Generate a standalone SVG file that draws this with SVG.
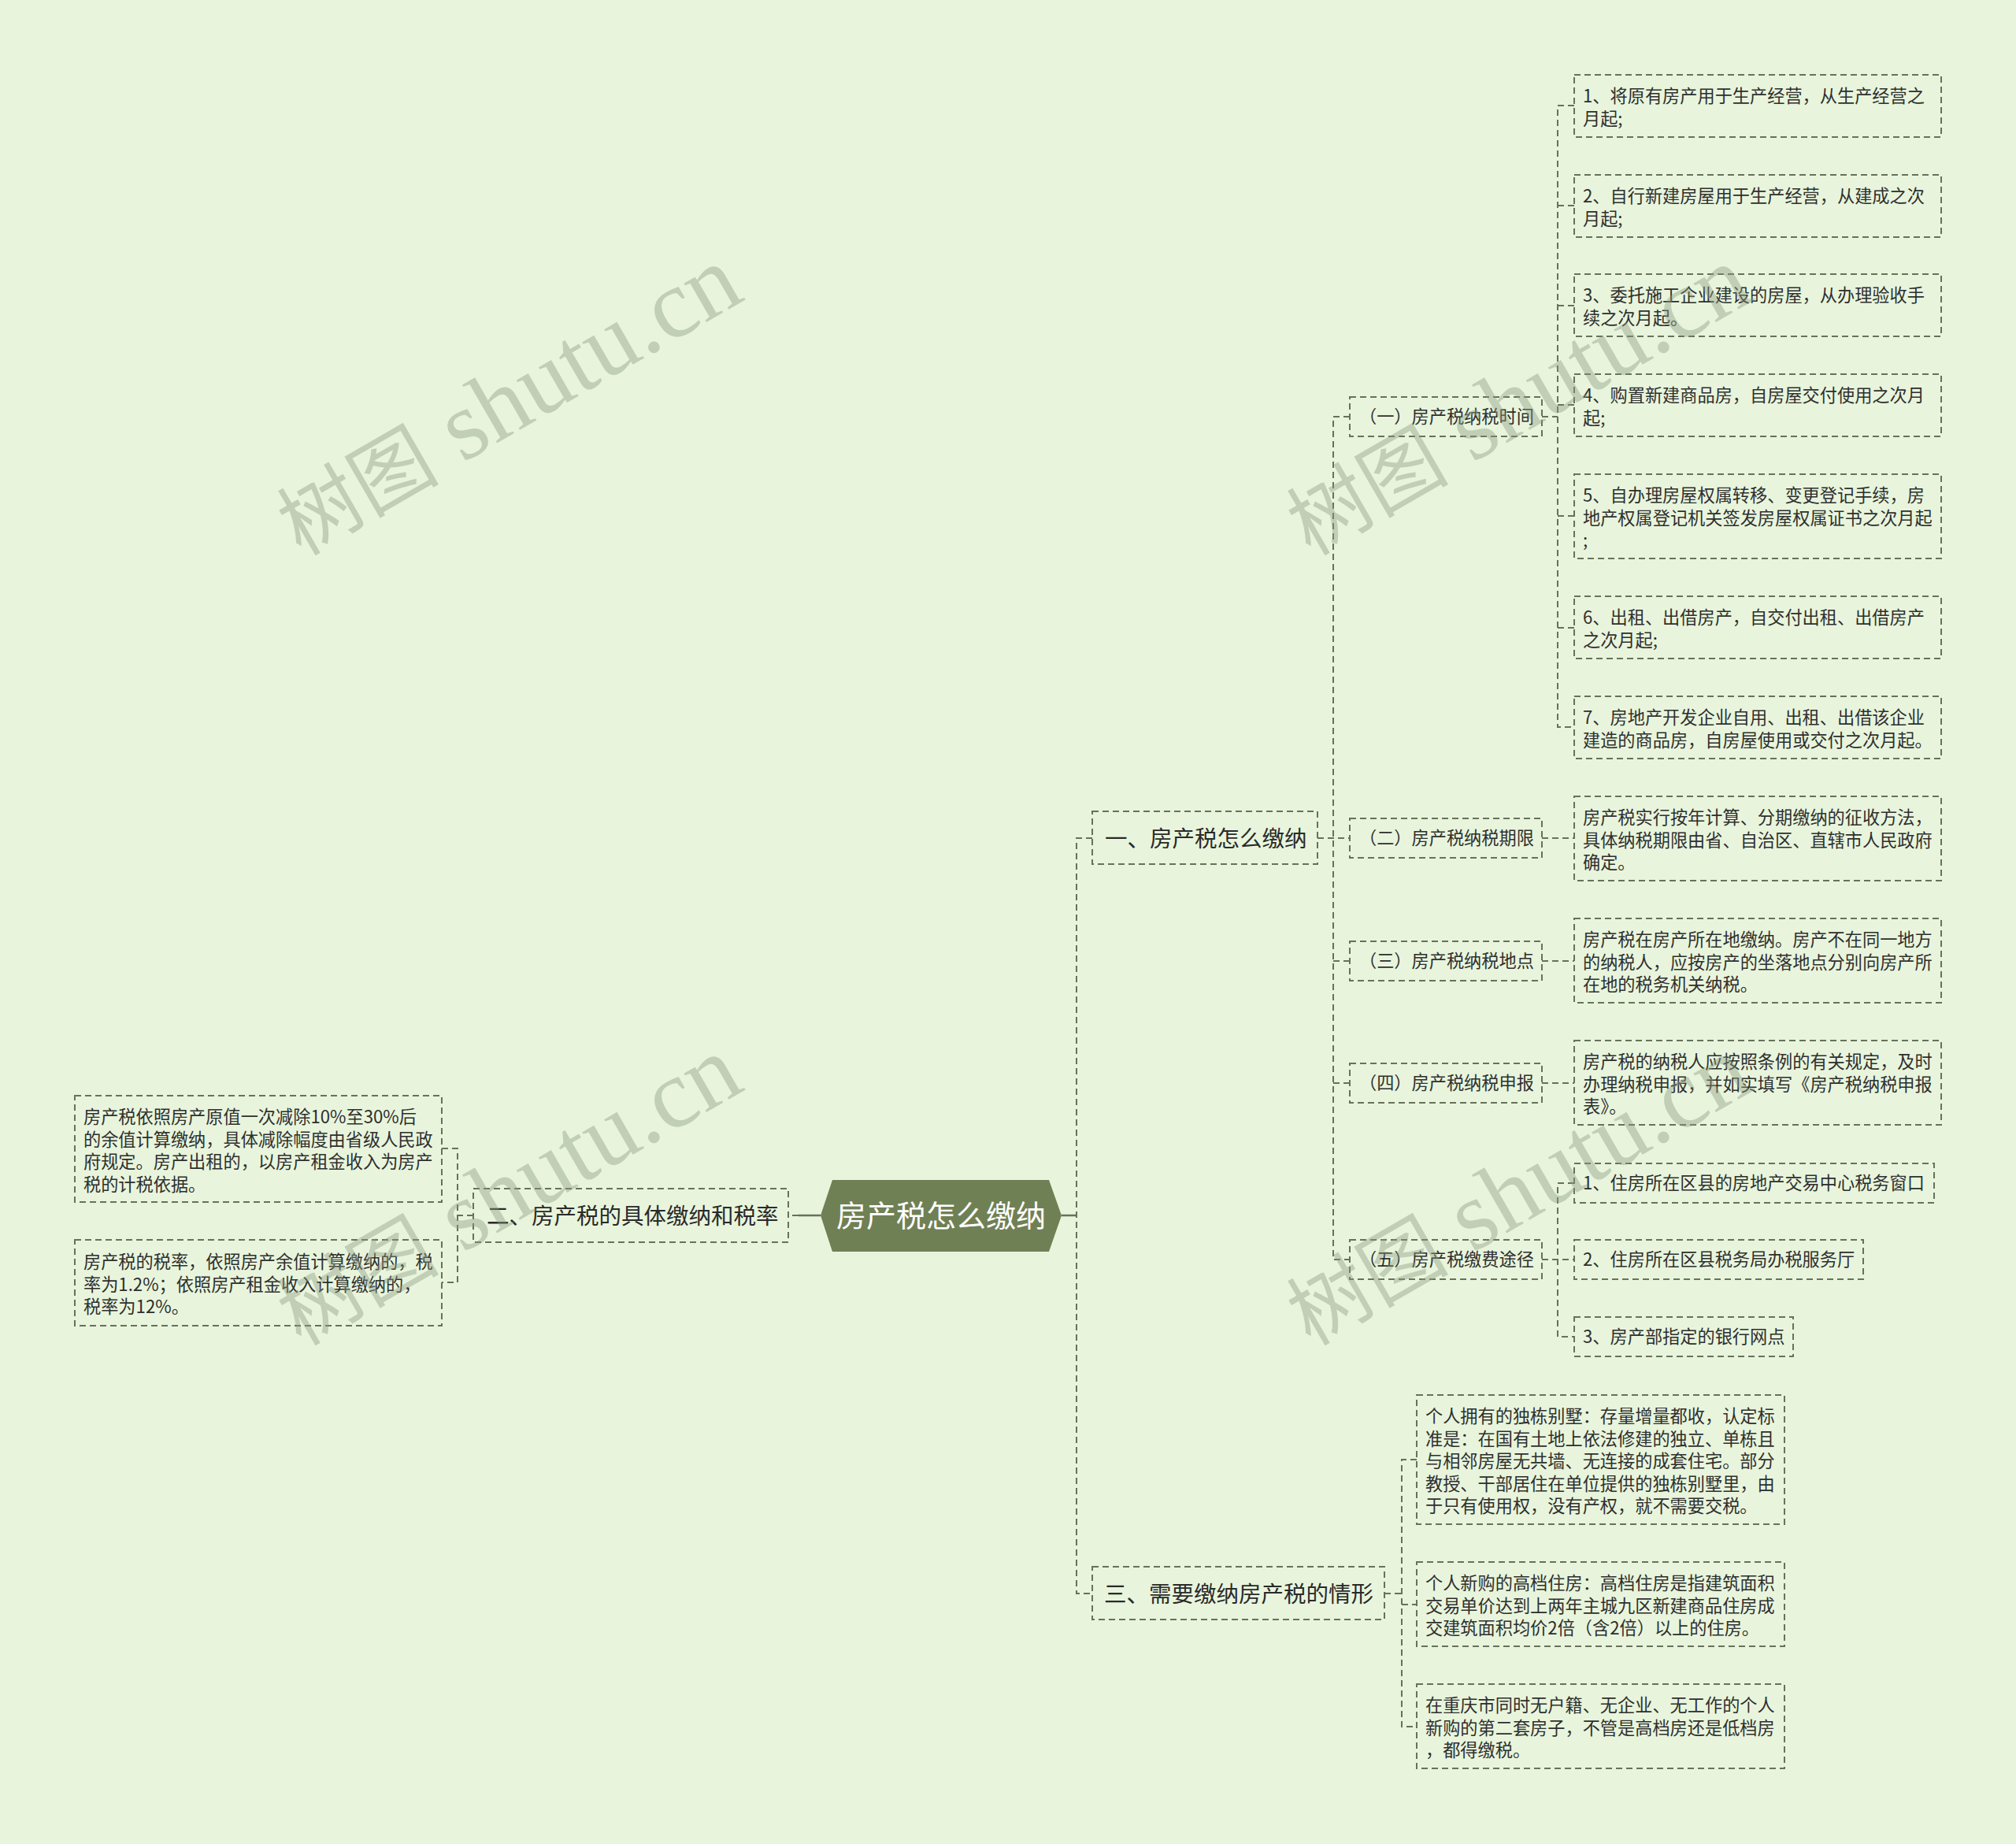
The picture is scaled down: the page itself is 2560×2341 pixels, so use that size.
<svg xmlns="http://www.w3.org/2000/svg" width="2560" height="2341" viewBox="0 0 2560 2341">
<style>
.bx{fill:none;stroke:#66735a;stroke-width:2;stroke-dasharray:8 5}
.ln{fill:none;stroke:#66735a;stroke-width:2;stroke-dasharray:8 5}
.sl{fill:none;stroke:#66735a;stroke-width:2.5}
.t{font-family:"Noto Sans CJK SC","Noto Sans",sans-serif;font-size:22.2px;fill:#2f2f2f}
.tb{font-family:"Noto Sans CJK SC","Noto Sans",sans-serif;font-size:28.5px;fill:#2a2a2a}
.tr{font-family:"Noto Sans CJK SC","Noto Sans",sans-serif;font-size:38px;fill:#ffffff}
.wm{font-family:"Liberation Serif","Noto Sans CJK SC",serif;fill:#8c9b82;opacity:0.42}
</style>
<rect x="0" y="0" width="2560" height="2341" fill="#e8f5dc"/>

<g id="connectors">
<path class="sl" d="M1348 1543 H1367"/>
<path class="ln" d="M1387 1064 H1367 V2023 H1387"/>
<path class="sl" d="M1042 1543 H1014"/>
<path class="ln" d="M1014 1543 H1001"/>
<path class="ln" d="M1673 1064 H1714"/>
<path class="ln" d="M1714 529 H1693 V1599 H1714"/>
<path class="ln" d="M1693 1220 H1714"/>
<path class="ln" d="M1693 1375 H1714"/>
<path class="ln" d="M1958 529 H1978"/>
<path class="ln" d="M1999 134 H1978 V923 H1999"/>
<path class="ln" d="M1978 261 H1999 M1978 388 H1999 M1978 514 H1999 M1978 655 H1999 M1978 797 H1999"/>
<path class="ln" d="M1958 1064 H1999"/>
<path class="ln" d="M1958 1220 H1999"/>
<path class="ln" d="M1958 1375 H1999"/>
<path class="ln" d="M1958 1599 H1999"/>
<path class="ln" d="M1999 1502 H1978 V1697 H1999"/>
<path class="ln" d="M1758 2023 H1780"/>
<path class="ln" d="M1799 1853 H1780 V2192 H1799"/>
<path class="ln" d="M1780 2037 H1799"/>
<path class="ln" d="M601 1543 H581"/>
<path class="ln" d="M561 1458 H581 V1628 H561"/>
</g>

<g id="root">
<polygon points="1042,1543 1057,1498 1332,1498 1348,1543 1332,1589 1057,1589" fill="#708055"/>
<text class="tr" x="1195" y="1557" text-anchor="middle">房产税怎么缴纳</text>
</g>

<g id="b1">
<rect class="bx" x="1387" y="1030" width="286" height="67"/>
<text class="tb" x="1403" y="1075">一、房产税怎么缴纳</text>
</g>
<g id="b2">
<rect class="bx" x="601" y="1509" width="400" height="68"/>
<text class="tb" x="618" y="1554">二、房产税的具体缴纳和税率</text>
</g>
<g id="b3">
<rect class="bx" x="1387" y="1989" width="371" height="67"/>
<text class="tb" x="1402" y="2034">三、需要缴纳房产税的情形</text>
</g>

<g id="s1">
<rect class="bx" x="1714" y="504" width="244" height="50"/>
<text class="t" x="1726" y="537">（一）房产税纳税时间</text>
</g>
<g id="s2">
<rect class="bx" x="1714" y="1039" width="244" height="50"/>
<text class="t" x="1726" y="1072">（二）房产税纳税期限</text>
</g>
<g id="s3">
<rect class="bx" x="1714" y="1195" width="244" height="50"/>
<text class="t" x="1726" y="1228">（三）房产税纳税地点</text>
</g>
<g id="s4">
<rect class="bx" x="1714" y="1350" width="244" height="50"/>
<text class="t" x="1726" y="1383">（四）房产税纳税申报</text>
</g>
<g id="s5">
<rect class="bx" x="1714" y="1574" width="244" height="50"/>
<text class="t" x="1726" y="1607">（五）房产税缴费途径</text>
</g>

<g id="l1">
<rect class="bx" x="1999" y="95" width="466" height="79"/>
<text class="t" x="2010" y="130"><tspan x="2010">1、将原有房产用于生产经营，从生产经营之</tspan><tspan x="2010" dy="28.5">月起;</tspan></text>
</g>
<g id="l2">
<rect class="bx" x="1999" y="222" width="466" height="79"/>
<text class="t" x="2010" y="257"><tspan x="2010">2、自行新建房屋用于生产经营，从建成之次</tspan><tspan x="2010" dy="28.5">月起;</tspan></text>
</g>
<g id="l3">
<rect class="bx" x="1999" y="348" width="466" height="79"/>
<text class="t" x="2010" y="383"><tspan x="2010">3、委托施工企业建设的房屋，从办理验收手</tspan><tspan x="2010" dy="28.5">续之次月起。</tspan></text>
</g>
<g id="l4">
<rect class="bx" x="1999" y="475" width="466" height="79"/>
<text class="t" x="2010" y="510"><tspan x="2010">4、购置新建商品房，自房屋交付使用之次月</tspan><tspan x="2010" dy="28.5">起;</tspan></text>
</g>
<g id="l5">
<rect class="bx" x="1999" y="602" width="466" height="107"/>
<text class="t" x="2010" y="637"><tspan x="2010">5、自办理房屋权属转移、变更登记手续，房</tspan><tspan x="2010" dy="28.5">地产权属登记机关签发房屋权属证书之次月起</tspan><tspan x="2010" dy="28.5">;</tspan></text>
</g>
<g id="l6">
<rect class="bx" x="1999" y="757" width="466" height="79"/>
<text class="t" x="2010" y="792"><tspan x="2010">6、出租、出借房产，自交付出租、出借房产</tspan><tspan x="2010" dy="28.5">之次月起;</tspan></text>
</g>
<g id="l7">
<rect class="bx" x="1999" y="884" width="466" height="79"/>
<text class="t" x="2010" y="919"><tspan x="2010">7、房地产开发企业自用、出租、出借该企业</tspan><tspan x="2010" dy="28.5">建造的商品房，自房屋使用或交付之次月起。</tspan></text>
</g>
<g id="l8">
<rect class="bx" x="1999" y="1011" width="466" height="107"/>
<text class="t" x="2010" y="1046"><tspan x="2010">房产税实行按年计算、分期缴纳的征收方法，</tspan><tspan x="2010" dy="28.5">具体纳税期限由省、自治区、直辖市人民政府</tspan><tspan x="2010" dy="28.5">确定。</tspan></text>
</g>
<g id="l9">
<rect class="bx" x="1999" y="1166" width="466" height="107"/>
<text class="t" x="2010" y="1201"><tspan x="2010">房产税在房产所在地缴纳。房产不在同一地方</tspan><tspan x="2010" dy="28.5">的纳税人，应按房产的坐落地点分别向房产所</tspan><tspan x="2010" dy="28.5">在地的税务机关纳税。</tspan></text>
</g>
<g id="l10">
<rect class="bx" x="1999" y="1321" width="466" height="107"/>
<text class="t" x="2010" y="1356"><tspan x="2010">房产税的纳税人应按照条例的有关规定，及时</tspan><tspan x="2010" dy="28.5">办理纳税申报，并如实填写《房产税纳税申报</tspan><tspan x="2010" dy="28.5">表》。</tspan></text>
</g>
<g id="l11">
<rect class="bx" x="1999" y="1477" width="457" height="50"/>
<text class="t" x="2010" y="1510">1、住房所在区县的房地产交易中心税务窗口</text>
</g>
<g id="l12">
<rect class="bx" x="1999" y="1574" width="367" height="50"/>
<text class="t" x="2010" y="1607">2、住房所在区县税务局办税服务厅</text>
</g>
<g id="l13">
<rect class="bx" x="1999" y="1672" width="278" height="50"/>
<text class="t" x="2010" y="1705">3、房产部指定的银行网点</text>
</g>

<g id="t1">
<rect class="bx" x="1799" y="1771" width="467" height="164"/>
<text class="t" x="1810" y="1806"><tspan x="1810">个人拥有的独栋别墅：存量增量都收，认定标</tspan><tspan x="1810" dy="28.5">准是：在国有土地上依法修建的独立、单栋且</tspan><tspan x="1810" dy="28.5">与相邻房屋无共墙、无连接的成套住宅。部分</tspan><tspan x="1810" dy="28.5">教授、干部居住在单位提供的独栋别墅里，由</tspan><tspan x="1810" dy="28.5">于只有使用权，没有产权，就不需要交税。</tspan></text>
</g>
<g id="t2">
<rect class="bx" x="1799" y="1983" width="467" height="107"/>
<text class="t" x="1810" y="2018"><tspan x="1810">个人新购的高档住房：高档住房是指建筑面积</tspan><tspan x="1810" dy="28.5">交易单价达到上两年主城九区新建商品住房成</tspan><tspan x="1810" dy="28.5">交建筑面积均价2倍（含2倍）以上的住房。</tspan></text>
</g>
<g id="t3">
<rect class="bx" x="1799" y="2138" width="467" height="107"/>
<text class="t" x="1810" y="2173"><tspan x="1810">在重庆市同时无户籍、无企业、无工作的个人</tspan><tspan x="1810" dy="28.5">新购的第二套房子，不管是高档房还是低档房</tspan><tspan x="1810" dy="28.5">，都得缴税。</tspan></text>
</g>

<g id="p1">
<rect class="bx" x="95" y="1391" width="466" height="135"/>
<text class="t" x="106" y="1426"><tspan x="106">房产税依照房产原值一次减除10%至30%后</tspan><tspan x="106" dy="28.5">的余值计算缴纳，具体减除幅度由省级人民政</tspan><tspan x="106" dy="28.5">府规定。房产出租的，以房产租金收入为房产</tspan><tspan x="106" dy="28.5">税的计税依据。</tspan></text>
</g>
<g id="p2">
<rect class="bx" x="95" y="1574" width="466" height="109"/>
<text class="t" x="106" y="1610"><tspan x="106">房产税的税率，依照房产余值计算缴纳的，税</tspan><tspan x="106" dy="28.5">率为1.2%；依照房产租金收入计算缴纳的，</tspan><tspan x="106" dy="28.5">税率为12%。</tspan></text>
</g>

<g id="watermarks">
<text class="wm" transform="translate(665 543) rotate(-30)" text-anchor="middle"><tspan font-size="103">树图</tspan><tspan font-size="124"> shutu.cn</tspan></text>
<text class="wm" transform="translate(1947 543) rotate(-30)" text-anchor="middle"><tspan font-size="103">树图</tspan><tspan font-size="124"> shutu.cn</tspan></text>
<text class="wm" transform="translate(665 1546) rotate(-30)" text-anchor="middle"><tspan font-size="103">树图</tspan><tspan font-size="124"> shutu.cn</tspan></text>
<text class="wm" transform="translate(1947 1546) rotate(-30)" text-anchor="middle"><tspan font-size="103">树图</tspan><tspan font-size="124"> shutu.cn</tspan></text>
<text class="wm" transform="translate(665 2549) rotate(-30)" text-anchor="middle"><tspan font-size="103">树图</tspan><tspan font-size="124"> shutu.cn</tspan></text>
<text class="wm" transform="translate(1947 2549) rotate(-30)" text-anchor="middle"><tspan font-size="103">树图</tspan><tspan font-size="124"> shutu.cn</tspan></text>
</g>
</svg>
